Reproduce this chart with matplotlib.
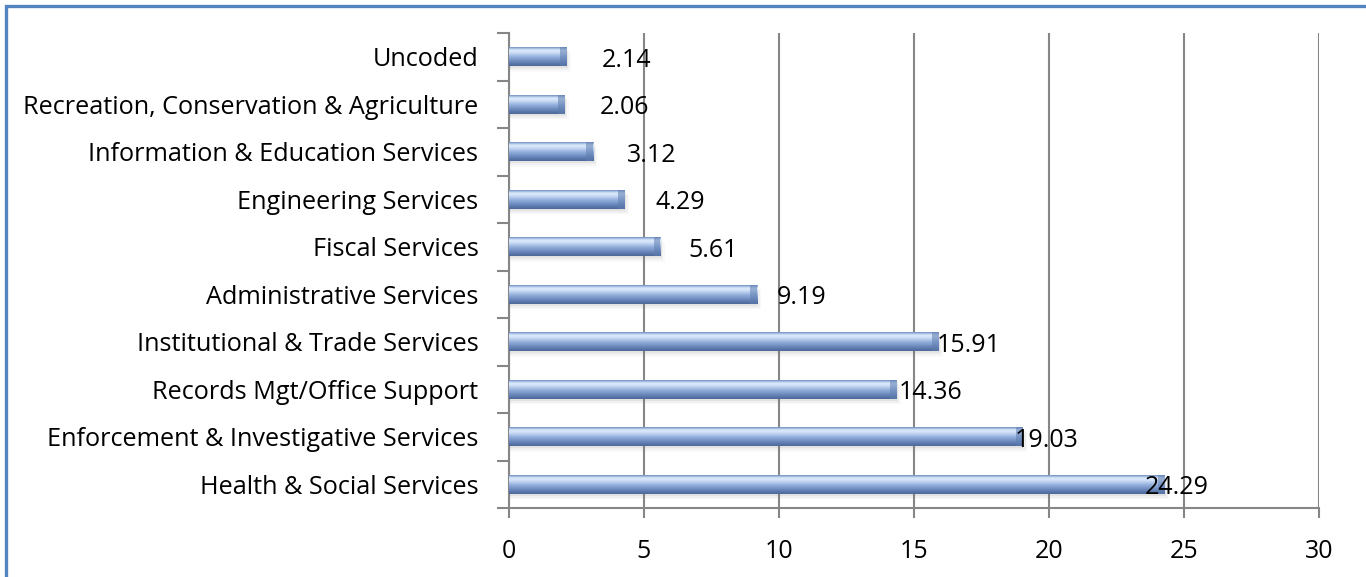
import numpy as np
import matplotlib
matplotlib.use("Agg")
import matplotlib.pyplot as plt
from matplotlib.patches import Rectangle
from matplotlib.colors import LinearSegmentedColormap

# categories bottom -> top
categories = ["Health & Social Services", "Enforcement & Investigative Services",
              "Records Mgt/Office Support", "Institutional & Trade Services",
              "Administrative Services", "Fiscal Services", "Engineering Services",
              "Information & Education Services",
              "Recreation, Conservation & Agriculture", "Uncoded"]
values = [24.29, 19.03, 14.36, 15.91, 9.19, 5.61, 4.29, 3.12, 2.06, 2.14]
xticks = [0, 5, 10, 15, 20, 25, 30]

plt.rcParams['font.family'] = ['Open Sans', 'DejaVu Sans']

fig = plt.figure(figsize=(13.66, 5.77), dpi=100)
ax = fig.add_axes([509/1366, 1-508/577, 810/1366, 475/577])

grid_c = "#868686"
bar_h = 0.40
cmap = LinearSegmentedColormap.from_list("cyl", [
    (0.0, "#4d6898"), (0.2, "#6583b8"), (0.5, "#97b3df"),
    (0.72, "#cfe0f7"), (0.85, "#dbe9fb"), (0.94, "#9fb8e0"), (1.0, "#7390bf")])
grad = np.linspace(0, 1, 64).reshape(-1, 1)

y = np.arange(len(categories))
for i, v in enumerate(values):
    # soft shadow
    for k, a in enumerate([0.10, 0.07, 0.04]):
        ax.add_patch(Rectangle((0, i - bar_h/2 - 0.04*(k+1)), v + 0.05*(k+1), bar_h,
                               facecolor="#7a7a7a", alpha=a, lw=0, zorder=2))
    r = Rectangle((0, i - bar_h/2), v, bar_h, facecolor="#7f9cc9", lw=0, zorder=3)
    ax.add_patch(r)
    im = ax.imshow(grad, cmap=cmap, aspect="auto", origin="lower",
                   extent=(0, v, i - bar_h/2, i + bar_h/2), zorder=3.5,
                   interpolation="bilinear")
    im.set_clip_path(r)
    # bevelled end cap
    ax.add_patch(Rectangle((v - 0.25, i - bar_h/2), 0.25, bar_h,
                           facecolor="#5f7db0", alpha=0.55, lw=0, zorder=4))
    ax.text(0.92*v + 2.4, i - 0.07, f"{v:.2f}", ha="center", va="center",
            fontsize=18, color="black", zorder=5)

ax.set_xlim(0, 30)
ax.set_ylim(-0.5, len(categories) - 0.5)
ax.set_xticks(xticks)
ax.set_xticklabels([str(t) for t in xticks], fontsize=18)
ax.set_yticks(y)
ax.set_yticklabels(categories, fontsize=18.2)
ax.set_yticks(np.arange(-0.5, len(categories)), minor=True)
ax.tick_params(axis="y", which="major", length=0, pad=22)
ax.tick_params(axis="y", which="minor", length=9, width=1.5, color=grid_c)
ax.tick_params(axis="x", length=7, width=1.5, color=grid_c, pad=15)

ax.grid(axis="x", color=grid_c, lw=1.5, zorder=1)
ax.set_axisbelow(True)
for s in ["top", "right"]:
    ax.spines[s].set_visible(False)
for s in ["left", "bottom"]:
    ax.spines[s].set_color(grid_c)
    ax.spines[s].set_linewidth(1.5)

# outer blue frame
fig.patches.append(Rectangle((5.5/1366, -0.05), 1.2, 1.05 - 5.5/577,
                             transform=fig.transFigure, fill=False,
                             edgecolor="#5584c3", lw=2.4))

fig.savefig("out.png", dpi=100)
